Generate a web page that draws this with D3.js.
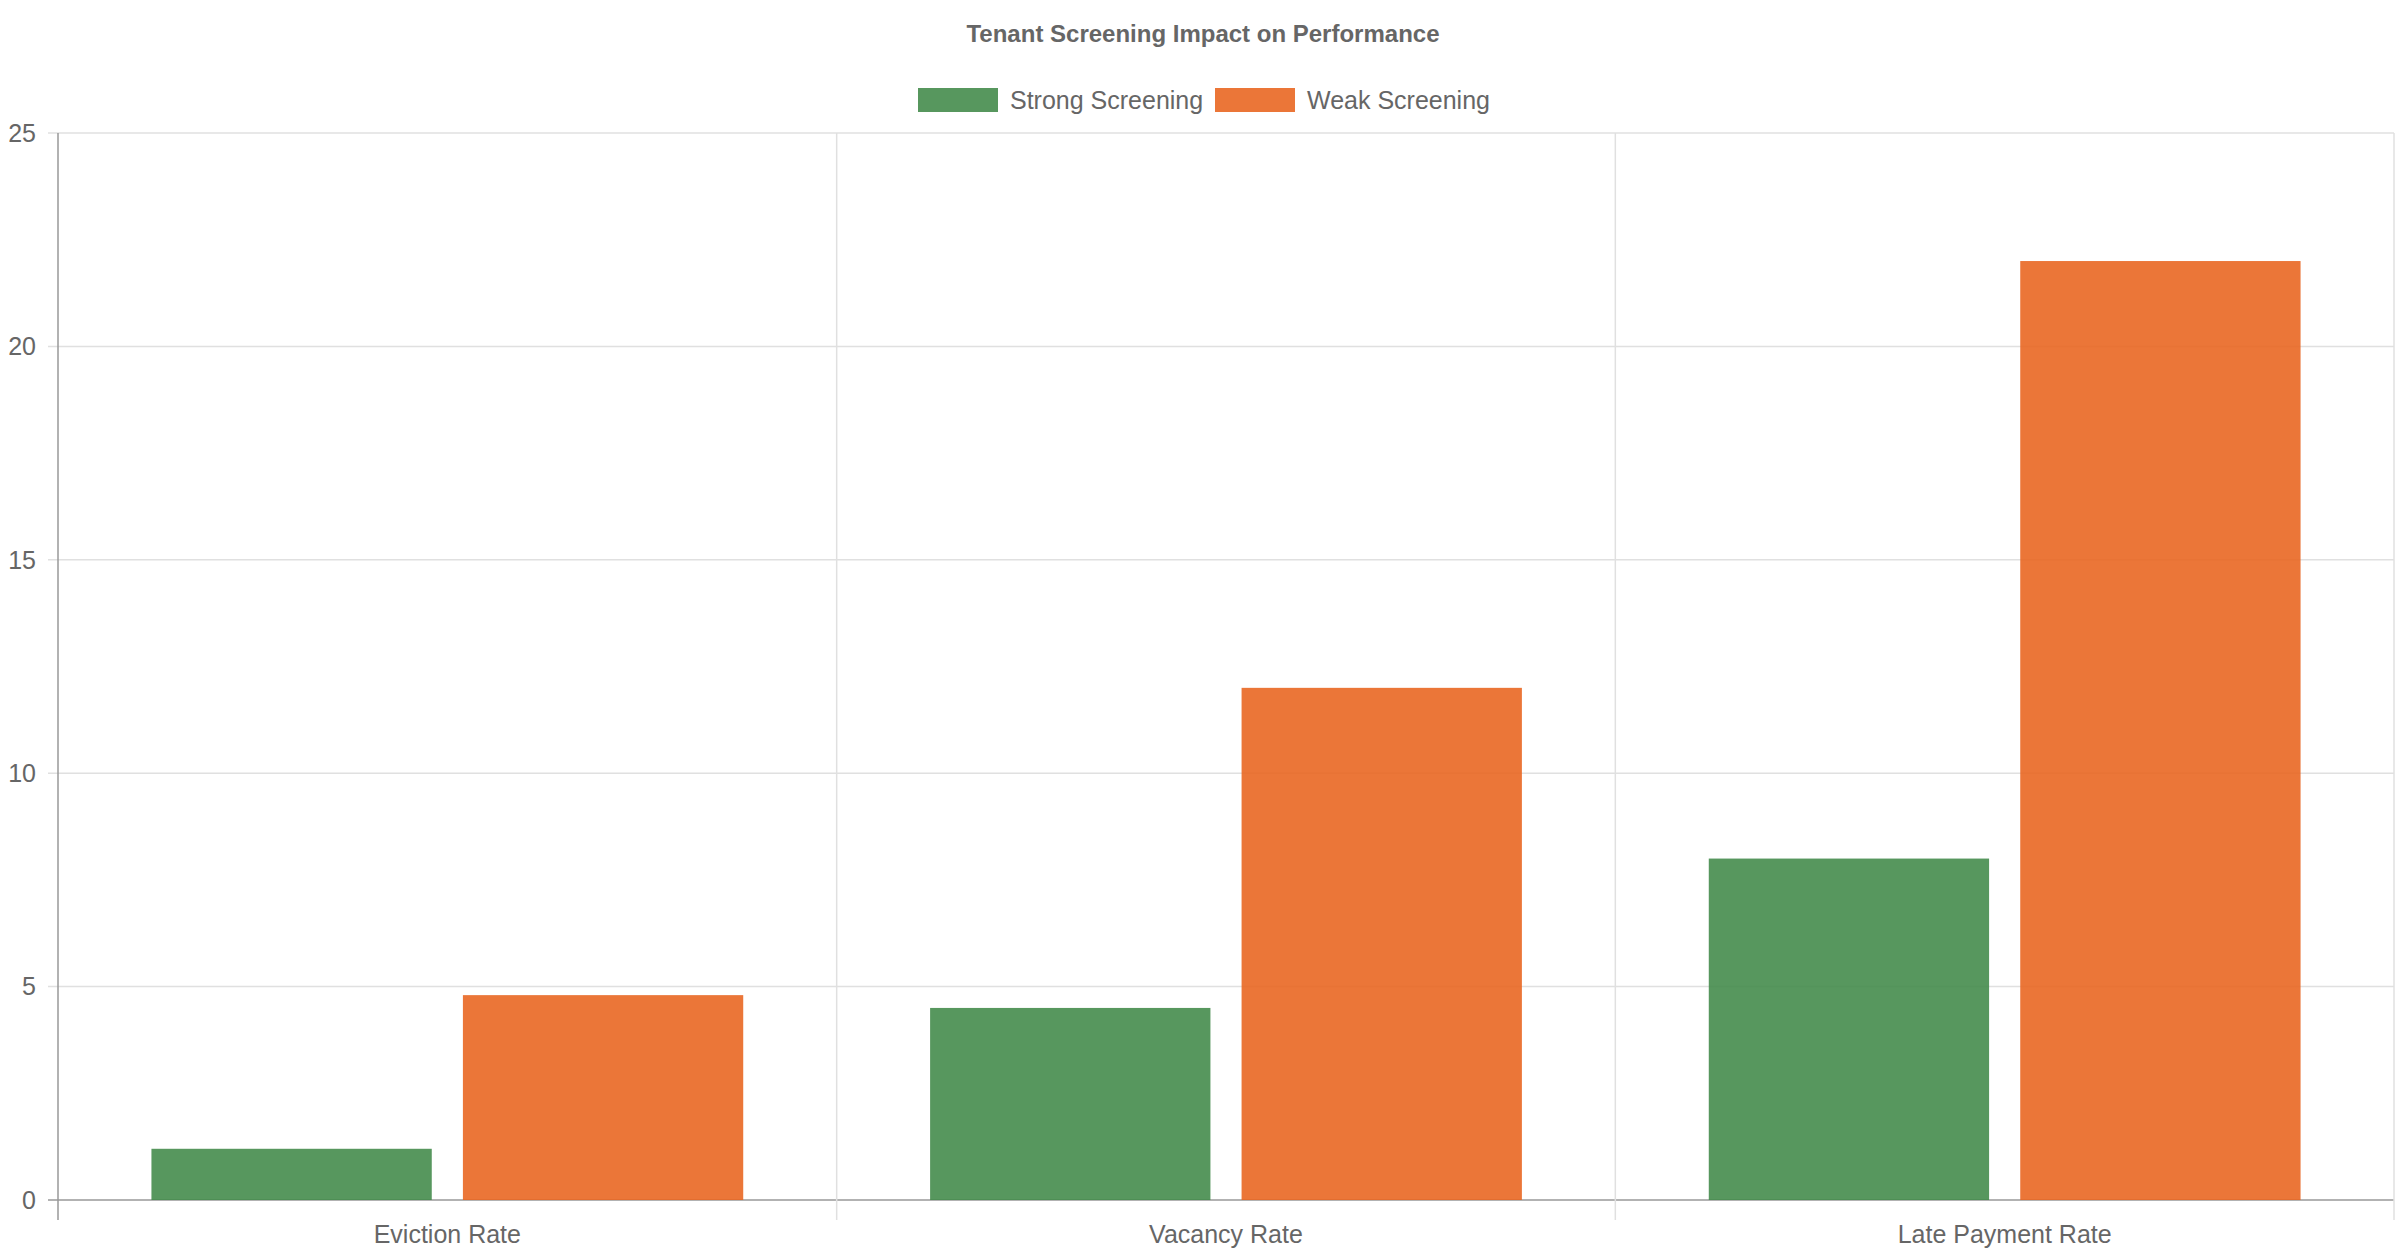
<!DOCTYPE html>
<html>
<head>
<meta charset="utf-8">
<script src="https://cdn.jsdelivr.net/npm/d3@7"></script>
<style>
  body { margin: 0; background: #fff; }
  text { font-family: "Liberation Sans", Arial, sans-serif; fill: #666; }
</style>
</head>
<body>
<div id="chart"></div>
<script>
var categories = ["Eviction Rate", "Vacancy Rate", "Late Payment Rate"];
var seriesNames = ["Strong Screening", "Weak Screening"];
var strongValues = [1.2, 4.5, 8];
var weakValues = [4.8, 12, 22];
var yTicks = [0, 5, 10, 15, 20, 25];
var colors = ["rgba(64,137,72,0.88)", "rgba(232,99,28,0.88)"];

(function () {
    var W = 2400, H = 1260;
    var plotLeft = 58, plotRight = 2394, plotTop = 133, plotBottom = 1200;

    var svg = d3.select("#chart").append("svg")
        .attr("width", W).attr("height", H);

    var x0 = d3.scaleBand().domain(categories).range([plotLeft, plotRight]);
    // category 80%, bar 90%
    var x1 = d3.scaleBand().domain(seriesNames)
        .range([x0.bandwidth() * 0.1, x0.bandwidth() * 0.9])
        .paddingInner(0.1).paddingOuter(0.05);
    var y = d3.scaleLinear().domain([0, 25]).range([plotBottom, plotTop]);

    // grid
    svg.selectAll(".hgrid").data(yTicks).enter().append("line")
        .attr("x1", plotLeft - 10).attr("x2", plotRight)
        .attr("y1", function (d) { return y(d); }).attr("y2", function (d) { return y(d); })
        .attr("stroke", function (d) { return d === 0 ? "#999" : "#e0e0e0"; })
        .attr("stroke-width", 1.5);
    var vlines = categories.map(function (c) { return x0(c); }).concat([plotRight]);
    svg.selectAll(".vgrid").data(vlines).enter().append("line")
        .attr("x1", function (d) { return d; }).attr("x2", function (d) { return d; })
        .attr("y1", plotTop).attr("y2", plotBottom + 20)
        .attr("stroke", function (d, i) { return i === 0 ? "#999" : "#e0e0e0"; })
        .attr("stroke-width", 1.5);

    svg.selectAll(".ytick").data(yTicks).enter().append("text")
        .attr("x", plotLeft - 22).attr("y", function (d) { return y(d); })
        .attr("dy", "0.35em").attr("text-anchor", "end")
        .attr("font-size", 25).text(function (d) { return d; });

    svg.selectAll(".xtick").data(categories).enter().append("text")
        .attr("x", function (d) { return x0(d) + x0.bandwidth() / 2; })
        .attr("y", 1234).attr("dy", "0.35em").attr("text-anchor", "middle")
        .attr("font-size", 25).text(function (d) { return d; });

    var series = [strongValues, weakValues];
    series.forEach(function (vals, si) {
        svg.selectAll(".bar" + si).data(vals).enter().append("rect")
            .attr("x", function (d, i) { return x0(categories[i]) + x1(seriesNames[si]); })
            .attr("width", x1.bandwidth())
            .attr("y", function (d) { return y(d); })
            .attr("height", function (d) { return y(0) - y(d); })
            .attr("fill", colors[si]);
    });

    svg.append("text").attr("x", (plotLeft + plotRight) / 2 - 23).attr("y", 34).attr("dy", "0.35em")
        .attr("text-anchor", "middle").attr("font-size", 24).attr("font-weight", "bold")
        .text("Tenant Screening Impact on Performance");

    var legendX = [918, 1215];
    seriesNames.forEach(function (name, i) {
        svg.append("rect").attr("x", legendX[i]).attr("y", 88).attr("width", 80).attr("height", 24)
            .attr("fill", colors[i]);
        svg.append("text").attr("x", legendX[i] + 92).attr("y", 100).attr("dy", "0.35em")
            .attr("font-size", 25).text(name);
    });
})();
</script>
</body>
</html>
